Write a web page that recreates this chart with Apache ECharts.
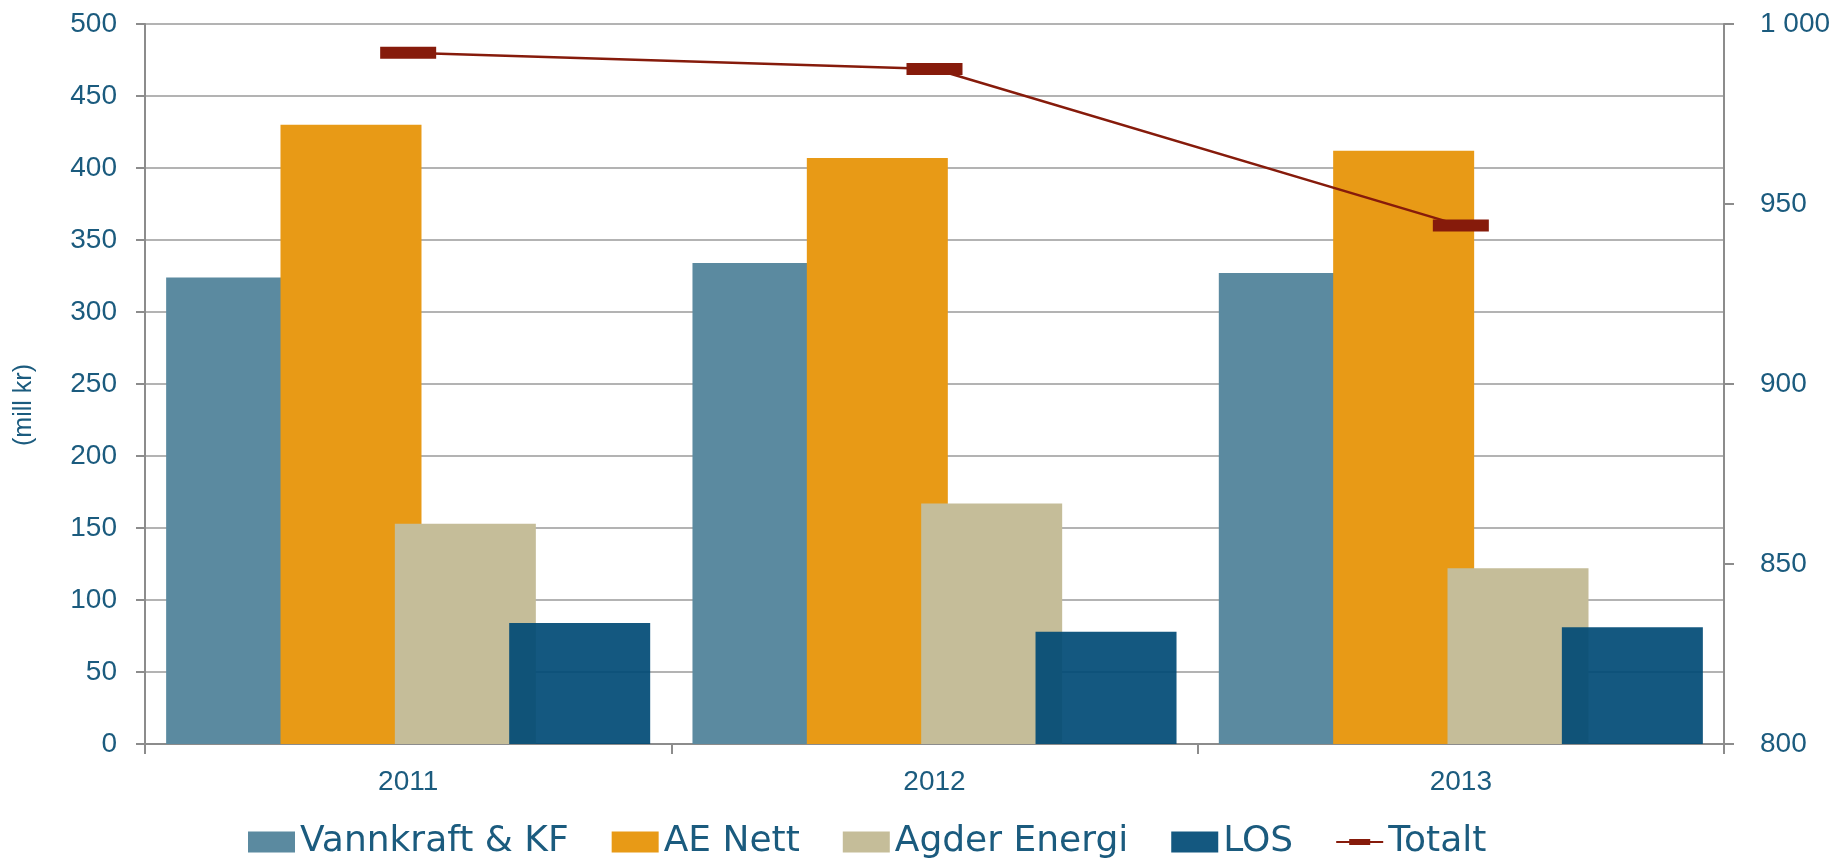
<!DOCTYPE html>
<html>
<head>
<meta charset="utf-8">
<script src="https://cdn.jsdelivr.net/npm/echarts@6/dist/echarts.min.js"></script>
<style>
html,body{margin:0;padding:0;background:#fff;}
#c{width:1838px;height:858px;}
</style>
</head>
<body>
<div id="c"></div>
<script>
const categories = ['2011', '2012', '2013'];
const vannkraft = [324, 334, 327];
const aeNett = [430, 407, 412];
const agderEnergi = [153, 167, 122];
const los = [84, 78, 81];
const totalt = [992, 987.5, 944];
const seriesNames = ['Vannkraft & KF', 'AE Nett', 'Agder Energi', 'LOS', 'Totalt'];

const textColor = '#1B5B7E';
const gridColor = '#9a9a9a';
const axisColor = '#8c8c8c';
const labelFont = 'Liberation Sans';
const lineLegendIcon = 'path://M0,0L0.01,0L0.01,0.01L0,0.01Z M0,9.5L47,9.5L47,11.5L0,11.5Z M13,7.5L34,7.5L34,13.5L13,13.5Z M46.99,20.99L47,20.99L47,21L46.99,21Z';

const chart = echarts.init(document.getElementById('c'));
const barCommon = { type: 'bar', barWidth: 141, barGap: '-18.9%', yAxisIndex: 0 };

chart.setOption({
  animation: false,
  backgroundColor: '#ffffff',
  grid: { left: 145, right: 114, top: 24, bottom: 114 },
  legend: {
    left: 243, top: 819,
    itemWidth: 47, itemHeight: 21, itemGap: 43,
    textStyle: { color: textColor, fontSize: 36, fontFamily: 'DejaVu Sans' },
    data: [
      { name: seriesNames[0], icon: 'rect' },
      { name: seriesNames[1], icon: 'rect' },
      { name: seriesNames[2], icon: 'rect' },
      { name: seriesNames[3], icon: 'rect' },
      { name: seriesNames[4], icon: lineLegendIcon }
    ]
  },
  xAxis: {
    type: 'category',
    data: categories,
    axisLine: { lineStyle: { color: axisColor, width: 2 } },
    axisTick: { show: true, length: 10, lineStyle: { color: axisColor, width: 2 } },
    axisLabel: { color: textColor, fontSize: 28, fontFamily: labelFont, margin: 24 }
  },
  yAxis: [
    {
      type: 'value', min: 0, max: 500, interval: 50,
      name: '(mill kr)', nameLocation: 'middle', nameGap: 108, nameRotate: 90,
      nameTextStyle: { color: textColor, fontSize: 25, fontFamily: labelFont, padding: [0, 42, 0, 0] },
      axisLine: { show: true, lineStyle: { color: axisColor, width: 2 } },
      axisTick: { show: true, length: 9, lineStyle: { color: axisColor, width: 2 } },
      axisLabel: { color: textColor, fontSize: 28, fontFamily: labelFont, margin: 28 },
      splitLine: { show: true, lineStyle: { color: gridColor, width: 1.5 } }
    },
    {
      type: 'value', min: 800, max: 1000, interval: 50, position: 'right',
      axisLine: { show: true, lineStyle: { color: axisColor, width: 2 } },
      axisTick: { show: true, length: 10, lineStyle: { color: axisColor, width: 2 } },
      axisLabel: {
        color: textColor, fontSize: 28, fontFamily: labelFont, margin: 36,
        formatter: v => String(v).replace(/\B(?=(\d{3})+(?!\d))/g, ' ')
      },
      splitLine: { show: false }
    }
  ],
  series: [
    Object.assign({}, barCommon, { name: seriesNames[0], data: vannkraft, itemStyle: { color: '#5B8AA0' } }),
    Object.assign({}, barCommon, { name: seriesNames[1], data: aeNett, itemStyle: { color: '#E89A16' } }),
    Object.assign({}, barCommon, { name: seriesNames[2], data: agderEnergi, itemStyle: { color: '#C5BD99' } }),
    Object.assign({}, barCommon, { name: seriesNames[3], data: los, itemStyle: { color: 'rgba(0,74,117,0.92)' } }),
    {
      name: seriesNames[4], type: 'line', yAxisIndex: 1, data: totalt,
      symbol: 'rect', symbolSize: [56, 12],
      lineStyle: { color: '#861B0B', width: 2.5 },
      itemStyle: { color: '#861B0B' },
      z: 5
    }
  ]
});
</script>
</body>
</html>
